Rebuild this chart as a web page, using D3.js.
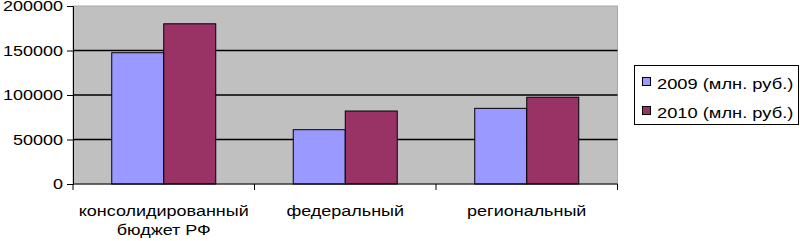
<!DOCTYPE html>
<html>
<head>
<meta charset="utf-8">
<script src="https://cdn.jsdelivr.net/npm/d3@7"></script>
<style>
  body { margin: 0; background: #fff; }
  text { font-family: "Liberation Sans", Arial, sans-serif; font-size: 15px; fill: #000; }
</style>
</head>
<body>
<div id="chart"></div>
<script>
var categories = ["консолидированный бюджет РФ", "федеральный", "региональный"];
var series = ["2009 (млн. руб.)", "2010 (млн. руб.)"];
var values2009 = [147500, 61000, 85000];
var values2010 = [180000, 82000, 97500];
var yTicks = [0, 50000, 100000, 150000, 200000];
var colors = ["#9999FF", "#993366"];

var svgWidth = 800;
var svgHeight = 241;
var sx = 1.2; // the source text is stretched sideways

var plot = { left: 73, right: 617.5, top: 6, bottom: 184 };

var svg = d3.select("#chart")
  .append("svg")
  .attr("width", svgWidth)
  .attr("height", svgHeight);

var xScale = d3.scaleBand()
  .domain(categories)
  .range([plot.left, plot.right]);

var xInner = d3.scaleBand()
  .domain(series)
  .range([0, xScale.bandwidth()])
  .paddingOuter(0.745);

var yScale = d3.scaleLinear()
  .domain([0, 200000])
  .range([plot.bottom, plot.top]);

// plot background
svg.append("rect")
  .attr("x", plot.left)
  .attr("y", plot.top)
  .attr("width", plot.right - plot.left)
  .attr("height", plot.bottom - plot.top)
  .attr("fill", "#C0C0C0")
  .attr("stroke", "#a8a8a8");

// gridlines
svg.append("g")
  .selectAll("line")
  .data(yTicks.filter(d => d > 0 && d < 200000))
  .enter()
  .append("line")
  .attr("x1", plot.left)
  .attr("x2", plot.right)
  .attr("y1", d => yScale(d))
  .attr("y2", d => yScale(d))
  .attr("stroke", "#000")
  .attr("stroke-width", 1.5);

// bars
var table = categories.map(function(c, i) {
  return { cat: c, vals: [values2009[i], values2010[i]] };
});

var groups = svg.append("g")
  .selectAll("g")
  .data(table)
  .enter()
  .append("g")
  .attr("transform", d => `translate(${xScale(d.cat)},0)`);

groups.selectAll("rect")
  .data(d => d.vals.map((v, j) => ({ s: series[j], v: v, j: j })))
  .enter()
  .append("rect")
  .attr("x", d => xInner(d.s))
  .attr("width", xInner.bandwidth())
  .attr("y", d => yScale(d.v))
  .attr("height", d => plot.bottom - yScale(d.v))
  .attr("fill", d => colors[d.j])
  .attr("stroke", "#000")
  .attr("stroke-width", 1);

// y axis
var leftAxis = d3.axisLeft(yScale)
  .tickValues(yTicks)
  .tickSize(6)
  .tickPadding(4)
  .tickFormat(d3.format("d"));

var yAxisG = svg.append("g")
  .attr("transform", `translate(${plot.left},0)`)
  .call(leftAxis);

yAxisG.select(".domain").attr("stroke", "#000");
yAxisG.selectAll(".tick line").attr("stroke", "#000");
yAxisG.selectAll(".tick text")
  .attr("font-size", null)
  .attr("font-family", null)
  .attr("x", -10 / sx)
  .attr("transform", `scale(${sx},1)`);

// x axis line and boundary ticks
var bounds = categories.map(c => xScale(c)).concat([plot.right]);

svg.append("line")
  .attr("x1", plot.left)
  .attr("x2", plot.right)
  .attr("y1", plot.bottom)
  .attr("y2", plot.bottom)
  .attr("stroke", "#000");

svg.append("g")
  .selectAll("line")
  .data(bounds)
  .enter()
  .append("line")
  .attr("x1", d => d)
  .attr("x2", d => d)
  .attr("y1", plot.bottom)
  .attr("y2", plot.bottom + 6)
  .attr("stroke", "#000");

// category labels
var labelLines = [["консолидированный", "бюджет РФ"], ["федеральный"], ["региональный"]];

categories.forEach(function(c, i) {
  var g = svg.append("g")
    .attr("transform", `translate(${xScale(c) + xScale.bandwidth() / 2},0) scale(${sx},1)`);
  labelLines[i].forEach(function(line, k) {
    g.append("text")
      .attr("x", 0)
      .attr("y", 216 + k * 19)
      .attr("text-anchor", "middle")
      .text(line);
  });
});

// legend
var legend = svg.append("g");

legend.append("rect")
  .attr("x", 634.5)
  .attr("y", 65.5)
  .attr("width", 164)
  .attr("height", 59)
  .attr("fill", "#fff")
  .attr("stroke", "#000");

series.forEach(function(s, i) {
  var y = 77.5 + i * 29;
  legend.append("rect")
    .attr("x", 642.5)
    .attr("y", y)
    .attr("width", 8)
    .attr("height", 8)
    .attr("fill", colors[i])
    .attr("stroke", "#000");
  legend.append("text")
    .attr("transform", `translate(657,${y + 11}) scale(1.22,1)`)
    .text(s);
});
</script>
</body>
</html>
